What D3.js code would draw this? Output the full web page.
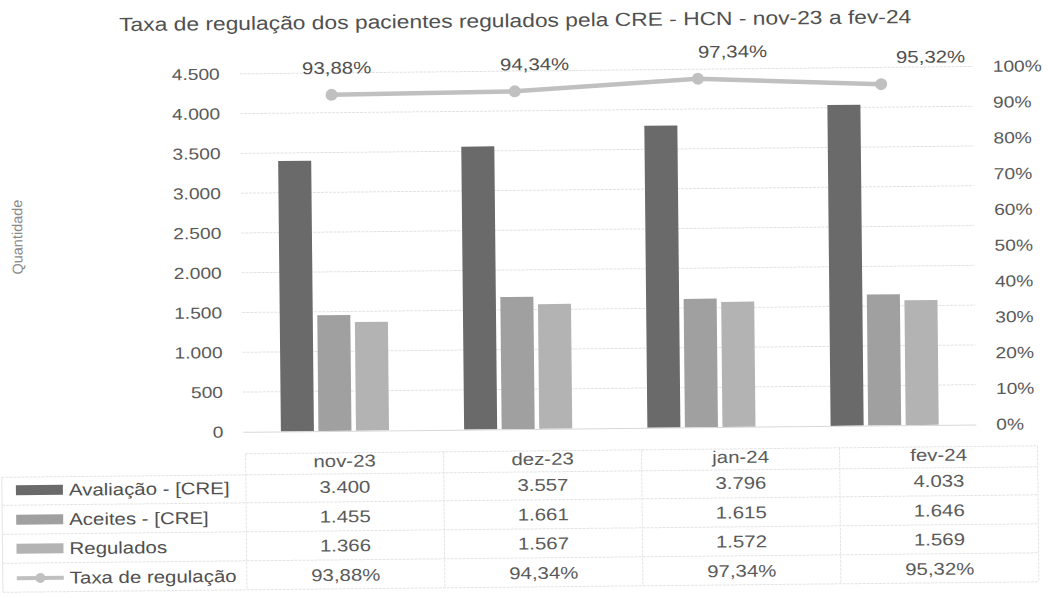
<!DOCTYPE html>
<html><head><meta charset="utf-8">
<script src="https://cdn.jsdelivr.net/npm/d3@7"></script>
<style>
html,body{margin:0;padding:0;background:#fff;}
text{font-family:"Liberation Sans",Arial,sans-serif;}
</style></head>
<body>
<svg id="chart" width="1048" height="598"></svg>
<script>
const categories = ["nov-23","dez-23","jan-24","fev-24"];
const seriesNames = ["Avaliação - [CRE]","Aceites - [CRE]","Regulados"];
const avaliacao = [3400,3557,3796,4033];
const aceites = [1455,1661,1615,1646];
const regulados = [1366,1567,1572,1569];
const taxa = [93.88,94.34,97.34,95.32];
const lineName = "Taxa de regulação";
const leftTicks = [0,500,1000,1500,2000,2500,3000,3500,4000,4500];
const rightTicks = [0,10,20,30,40,50,60,70,80,90,100];
const titleText = "Taxa de regulação dos pacientes regulados pela CRE - HCN - nov-23 a fev-24";
const yTitle = "Quantidade";

const barColors = ["#6a6a6a","#a0a0a0","#b3b3b3"];
const lineColor = "#c0c0c0";
const STRETCH = 1.2;

const loc = d3.formatLocale({decimal:",",thousands:".",grouping:[3],currency:["R$",""]});
const fInt = loc.format(",d");
const fPct = v => loc.format(".2f")(v) + "%";

const svg = d3.select("#chart");
const root = svg.append("g").attr("transform","rotate(-0.58,524,299)");

function stretch(sel){
  sel.each(function(){
    const l = this.getComputedTextLength();
    d3.select(this).attr("textLength", l*STRETCH).attr("lengthAdjust","spacingAndGlyphs");
  });
  return sel;
}

const plot = {left:242, right:975, top:71, bottom:429};
const x0 = d3.scaleBand().domain(categories).range([plot.left,plot.right]).paddingInner(0.41).paddingOuter(0.205);
const x1 = d3.scaleBand().domain(seriesNames).range([0,x0.bandwidth()]).paddingInner(0.12);
const y = d3.scaleLinear().domain([0,4500]).range([plot.bottom,plot.top]);
const yR = d3.scaleLinear().domain([0,100]).range([plot.bottom,plot.top]);
const xt = d3.scaleBand().domain(categories).range([244,1036]);

// title
stretch(root.append("text").attr("x",518).attr("y",27).attr("text-anchor","middle")
  .attr("font-size",19).attr("fill","#505050").text(titleText));

// gridlines
root.append("g").selectAll("line").data(leftTicks.slice(1)).join("line")
  .attr("x1",plot.left).attr("x2",plot.right).attr("y1",d=>y(d)).attr("y2",d=>y(d))
  .attr("stroke","#e2e2e2").attr("stroke-width",1).attr("stroke-dasharray","3,1");

// left axis
const gl = root.append("g").attr("transform",`translate(${plot.left-20},0)`)
  .call(d3.axisLeft(y).tickValues(leftTicks).tickFormat(fInt).tickSize(0).tickPadding(0));
gl.select(".domain").remove();
stretch(gl.selectAll("text").attr("font-size",16).attr("fill","#5a5a5a").attr("font-family","Liberation Sans, Arial, sans-serif"));

// right axis
const gr = root.append("g").attr("transform",`translate(${plot.right+20},0)`)
  .call(d3.axisRight(yR).tickValues(rightTicks).tickFormat(d=>d+"%").tickSize(0).tickPadding(0));
gr.select(".domain").remove();
stretch(gr.selectAll("text").attr("font-size",16).attr("fill","#5a5a5a").attr("font-family","Liberation Sans, Arial, sans-serif"));

// y title
root.append("text").attr("transform","translate(23,232) rotate(-90)").attr("text-anchor","middle")
  .attr("font-size",14.5).attr("fill","#8a8a8a").text(yTitle);

// bars
const seriesVals = [avaliacao,aceites,regulados];
const groups = root.append("g").selectAll("g").data(categories).join("g")
  .attr("transform",d=>`translate(${x0(d)},0)`);
groups.selectAll("rect").data((c,i)=>seriesNames.map((s,k)=>({s,k,v:seriesVals[k][i]}))).join("rect")
  .attr("x",d=>x1(d.s)).attr("width",x1.bandwidth())
  .attr("y",d=>y(d.v)).attr("height",d=>y(0)-y(d.v))
  .attr("fill",d=>barColors[d.k]);

// x axis line
root.append("line").attr("x1",plot.left).attr("x2",plot.right).attr("y1",plot.bottom+0.5).attr("y2",plot.bottom+0.5)
  .attr("stroke","#d8d8d8");

// line
const cx = c => x0(c)+x0.bandwidth()/2;
root.append("path").datum(taxa)
  .attr("d",d3.line().x((d,i)=>cx(categories[i])).y(d=>yR(d)))
  .attr("fill","none").attr("stroke",lineColor).attr("stroke-width",4.5);
root.append("g").selectAll("circle").data(taxa).join("circle")
  .attr("cx",(d,i)=>cx(categories[i])).attr("cy",d=>yR(d)).attr("r",6).attr("fill",lineColor);
stretch(root.append("g").selectAll("text").data(taxa).join("text")
  .attr("x",(d,i)=>xt(categories[i])+xt.bandwidth()/2 - 4).attr("y",d=>yR(d)-21)
  .attr("text-anchor","middle").attr("font-size",17).attr("fill","#505050").text(d=>fPct(d)));

// data table
const rowY = [459,485,514.5,543.5,573];
const lineYs = [451,472,500,529,558,587];
const tbl = root.append("g");
tbl.selectAll("line.h").data(lineYs).join("line")
  .attr("x1",(d,i)=>i===0?244:0).attr("x2",1036).attr("y1",d=>d).attr("y2",d=>d)
  .attr("stroke","#e4e4e4").attr("stroke-dasharray","3,1");
tbl.selectAll("line.v").data(d3.range(categories.length+1)).join("line")
  .attr("x1",i=>244+i*xt.step()).attr("x2",i=>244+i*xt.step()).attr("y1",451).attr("y2",587)
  .attr("stroke","#e4e4e4").attr("stroke-dasharray","3,1");
tbl.append("line").attr("x1",0).attr("x2",0).attr("y1",472).attr("y2",587).attr("stroke","#e4e4e4");

stretch(tbl.selectAll("text.hdr").data(categories).join("text")
  .attr("x",d=>xt(d)+xt.bandwidth()/2).attr("y",rowY[0]+6).attr("text-anchor","middle")
  .attr("font-size",17).attr("fill","#5a5a5a").text(d=>d));

const rows = [
  {name:seriesNames[0], vals:avaliacao.map(fInt), kind:"bar", color:barColors[0]},
  {name:seriesNames[1], vals:aceites.map(fInt), kind:"bar", color:barColors[1]},
  {name:seriesNames[2], vals:regulados.map(fInt), kind:"bar", color:barColors[2]},
  {name:lineName, vals:taxa.map(fPct), kind:"line", color:lineColor}
];
rows.forEach((r,ri)=>{
  const yy = rowY[ri+1];
  if(r.kind==="bar"){
    tbl.append("rect").attr("x",14).attr("y",yy-5).attr("width",47).attr("height",10).attr("fill",r.color);
  } else {
    tbl.append("line").attr("x1",14).attr("x2",61).attr("y1",yy).attr("y2",yy).attr("stroke",r.color).attr("stroke-width",4);
    tbl.append("circle").attr("cx",37.5).attr("cy",yy).attr("r",5).attr("fill",r.color);
  }
  stretch(tbl.append("text").attr("x",67).attr("y",yy+6).attr("font-size",17).attr("fill","#505050").text(r.name));
  stretch(tbl.selectAll(null).data(r.vals).join("text")
    .attr("x",(d,i)=>xt(categories[i])+xt.bandwidth()/2).attr("y",yy+6).attr("text-anchor","middle")
    .attr("font-size",17).attr("fill","#5a5a5a").text(d=>d));
});
</script>
</body></html>
